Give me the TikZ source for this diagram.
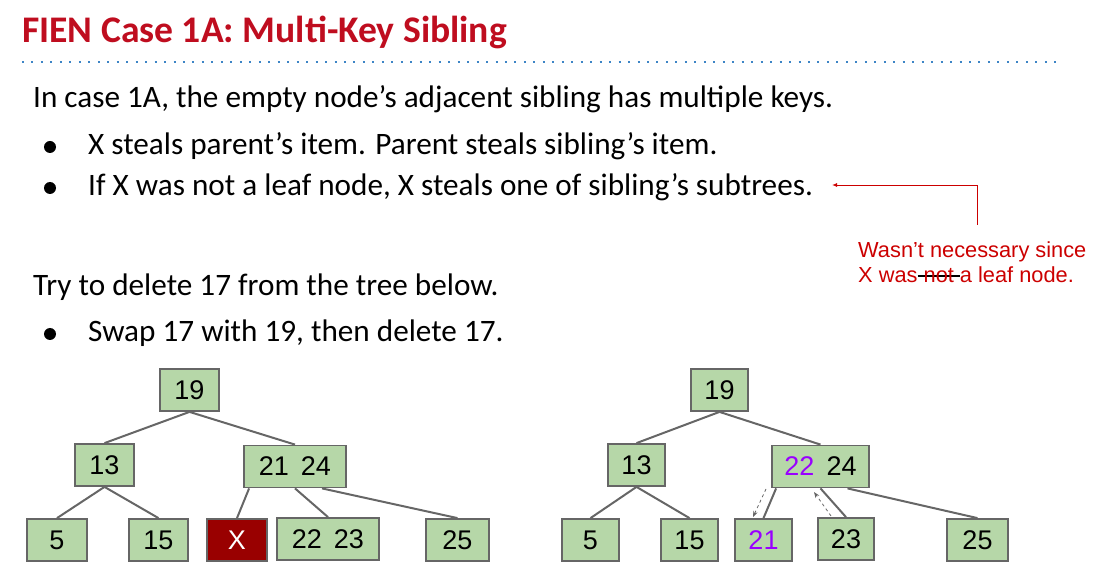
\documentclass[tikz,border=0pt]{standalone}
\usepackage{fontspec}
\setmainfont{Carlito}
\newfontfamily\arialfont{Liberation Sans}
\usetikzlibrary{arrows.meta}
\definecolor{titlered}{RGB}{191,13,31}
\definecolor{notered}{RGB}{204,0,0}
\definecolor{dotblue}{RGB}{61,133,198}
\definecolor{boxgreen}{HTML}{B6D7A8}
\definecolor{boxgray}{HTML}{666666}
\definecolor{xred}{HTML}{990000}
\definecolor{keypurple}{HTML}{9900FF}
\newcommand{\strk}[1]{\sbox0{#1}\rlap{\color{black}\rule[0.27em]{\wd0}{1.8pt}}\usebox0}
\tikzset{
    tnode/.style={draw=boxgray, line width=1.8pt, fill=boxgreen, minimum width=59pt, minimum height=42pt, inner sep=0pt, font=\arialfont\fontsize{27}{32}\selectfont},
    link/.style={draw=boxgray, line width=2pt},
    steal/.style={draw=boxgray, line width=0.8pt, dashed, -{Stealth[length=6pt]}},
    bodytext/.style={anchor=base west, inner sep=0pt, font=\fontsize{31.2}{36}\selectfont},
    notetext/.style={anchor=base west, inner sep=0pt, text=notered, font=\arialfont\fontsize{21.8}{25}\selectfont}
}
\begin{document}
\begin{tikzpicture}[x=1pt, y=-1pt]
    \useasboundingbox (0,0) rectangle (1109,577);
    % title
    \node (title) [anchor=base west, inner sep=0pt, text=titlered, font=\bfseries\fontsize{37.6}{44}\selectfont] at (22,43) {FIEN Case 1A: Multi-Key Sibling};
    \draw [dotblue, line width=2pt, dash pattern=on 2pt off 7.47pt] (22,62) -- (1056,62);
    % text
    \node (intro) [bodytext] at (33,108) {In case 1A, the empty node’s adjacent sibling has multiple keys.};
    \node (item1) [bodytext] at (88,155) {X steals parent’s item. Parent steals sibling’s item.};
    \node (item2) [bodytext] at (88,196) {If X was not a leaf node, X steals one of sibling’s subtrees.};
    \node (try) [bodytext] at (33,296) {Try to delete 17 from the tree below.};
    \node (item3) [bodytext] at (88,342) {Swap 17 with 19, then delete 17.};
    \foreach \y in {147,188,334}
        \fill (50,\y) circle (6pt);
    % note
    \node (note1) [notetext] at (858,258) {Wasn’t necessary since};
    \node (note2) [notetext] at (858,283) {X was\strk{ not }a leaf node.};
    \coordinate (nfrom) at (977,225);
    \coordinate (nto) at (832,185);
    \draw [notered, line width=0.9pt, -{Latex[length=5pt,width=4pt]}] (nfrom) |- (nto);
    % left tree
    \node (l19) [tnode] at (189.5,390) {19};
    \node (l13) [tnode] at (104.5,465) {13};
    \node (l2124) [tnode, minimum width=102pt] at (295,466.5) {21\hspace{12pt}24};
    \node (l5) [tnode, minimum width=60pt] at (57,540) {5};
    \node (l15) [tnode] at (158.5,540) {15};
    \node (lX) [tnode, fill=xred, text=white, minimum width=60pt] at (237,540) {X};
    \node (l2223) [tnode, minimum width=102pt] at (328,539) {22\hspace{12pt}23};
    \node (l25) [tnode, minimum width=63pt] at (457.5,540) {25};
    \draw [link] (l19.south) -- (l13.north);
    \draw [link] (l19.south) -- (l2124.north);
    \draw [link] (l13.south) -- (l5.north);
    \draw [link] (l13.south) -- (l15.north);
    \draw [link] ([xshift=6pt]l2124.south west) -- (lX.north);
    \draw [link] (l2124.south) -- (l2223.north);
    \draw [link] ([xshift=27pt]l2124.south) -- (l25.north);
    % right tree
    \node (r19) [tnode, minimum width=57pt] at (719.5,390) {19};
    \node (r13) [tnode, minimum width=57pt] at (636.5,465) {13};
    \node (r2224) [tnode, minimum width=97pt] at (820.5,466.5) {\textcolor{keypurple}{22}\hspace{12pt}24};
    \node (r5) [tnode, minimum width=57pt] at (590.5,540) {5};
    \node (r15) [tnode, minimum width=57pt] at (689.5,540) {15};
    \node (r21) [tnode, minimum width=57pt, text=keypurple] at (763.5,540) {21};
    \node (r23) [tnode, minimum width=56pt] at (846,539) {23};
    \node (r25) [tnode, minimum width=61pt] at (977.5,540) {25};
    \draw [link] (r19.south) -- (r13.north);
    \draw [link] (r19.south) -- (r2224.north);
    \draw [link] (r13.south) -- (r5.north);
    \draw [link] (r13.south) -- (r15.north);
    \draw [link] ([xshift=5pt]r2224.south west) -- (r21.north);
    \draw [link] (r2224.south) -- (r23.north);
    \draw [link] ([xshift=27pt]r2224.south) -- (r25.north);
    % stolen keys
    \coordinate (s1a) at (766,489);
    \coordinate (s1b) at (753,517);
    \coordinate (s2a) at (831,516);
    \coordinate (s2b) at (814,492);
    \draw [steal] (s1a) -- (s1b);
    \draw [steal] (s2a) -- (s2b);
\end{tikzpicture}
\end{document}
